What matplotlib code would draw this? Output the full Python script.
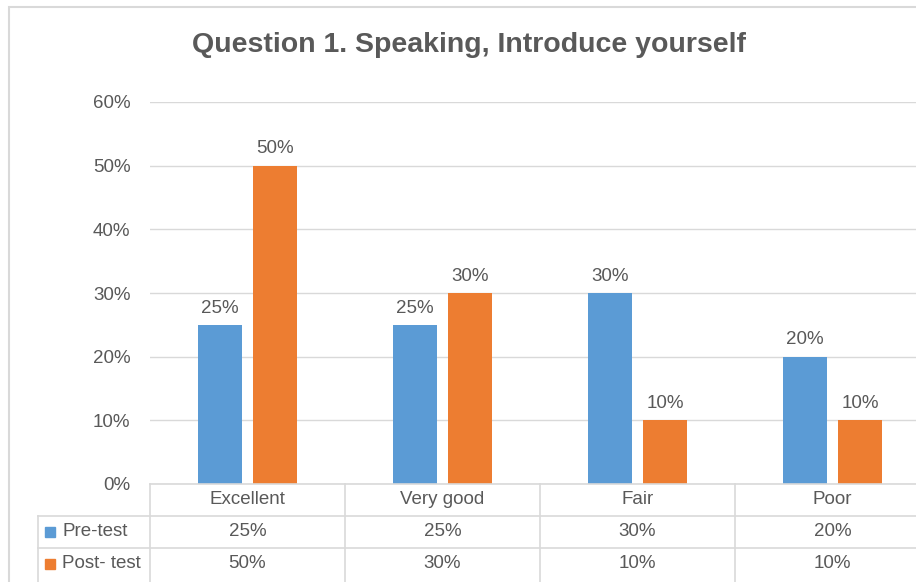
import matplotlib
matplotlib.use("Agg")
import matplotlib.pyplot as plt
import matplotlib.transforms as mtransforms
from matplotlib.patches import Rectangle
import numpy as np

categories = ["Excellent", "Very good", "Fair", "Poor"]
series_names = ["Pre-test", "Post- test"]
pre_test = [0.25, 0.25, 0.30, 0.20]
post_test = [0.50, 0.30, 0.10, 0.10]
yticks = [0.0, 0.1, 0.2, 0.3, 0.4, 0.5, 0.6]

blue = "#5B9BD5"
orange = "#ED7D31"
txt = "#595959"
grid = "#D9D9D9"
fs = 13.5

plt.rcParams['font.family'] = ['Liberation Sans', 'DejaVu Sans']

W, H = 916, 582
fig = plt.figure(figsize=(W / 100, H / 100), dpi=100)

def fx(px):
    return px / W

def fy(py):
    return 1 - py / H

# outer chart frame (cut off on the right and bottom)
fig.add_artist(Rectangle((fx(8.5), fy(700)), fx(1000), fy(6.5) - fy(700),
                         transform=fig.transFigure, fill=False,
                         edgecolor=grid, linewidth=1.5))

ax = fig.add_axes([fx(150), fy(484), fx(930) - fx(150), fy(102) - fy(484)])
ax.set_xlim(-0.5, 3.5)
ax.set_ylim(0, 0.6)
for s in ax.spines.values():
    s.set_visible(False)
ax.set_yticks(yticks)
ax.set_yticklabels([f"{int(round(v * 100))}%" for v in yticks], color=txt, fontsize=fs)
ax.tick_params(axis='y', length=0, pad=14)
ax.set_xticks([])
ax.yaxis.grid(True, color=grid, linewidth=1)
ax.set_axisbelow(True)

x = np.arange(len(categories))
bw = 0.226
off = 0.141
b1 = ax.bar(x - off, pre_test, bw, color=blue)
b2 = ax.bar(x + off, post_test, bw, color=orange)
for bars, vals in ((b1, pre_test), (b2, post_test)):
    for r, v in zip(bars, vals):
        ax.annotate(f"{int(round(v * 100))}%", (r.get_x() + r.get_width() / 2, v),
                    xytext=(0, 6), textcoords="offset points", ha="center", va="bottom",
                    color=txt, fontsize=fs)

fig.text(fx(469), fy(45), "Question 1. Speaking, Introduce yourself",
         ha="center", va="center", fontsize=20.5, fontweight="bold", color=txt)

# data table under the axis
tr = mtransforms.blended_transform_factory(ax.transData, fig.transFigure)
line_kw = dict(color=grid, linewidth=1.2, transform=fig.transFigure, clip_on=False)
fig.add_artist(plt.Line2D([fx(150), fx(930)], [fy(484), fy(484)], **line_kw))
for yy in (516, 548):
    fig.add_artist(plt.Line2D([fx(38), fx(930)], [fy(yy), fy(yy)], **line_kw))
fig.add_artist(plt.Line2D([fx(38), fx(38)], [fy(516), fy(600)], **line_kw))
for i in range(len(categories) + 1):
    fig.add_artist(plt.Line2D([i - 0.5, i - 0.5], [fy(484), fy(600)], color=grid,
                              linewidth=1.2, transform=tr, clip_on=False))

for i, c in enumerate(categories):
    fig.text(i, fy(500), c, transform=tr, ha="center", va="center", color=txt, fontsize=fs)
    fig.text(i, fy(532), f"{int(round(pre_test[i] * 100))}%", transform=tr,
             ha="center", va="center", color=txt, fontsize=fs)
    fig.text(i, fy(564), f"{int(round(post_test[i] * 100))}%", transform=tr,
             ha="center", va="center", color=txt, fontsize=fs)

for row_y, name, col in ((532, series_names[0], blue), (564, series_names[1], orange)):
    fig.add_artist(Rectangle((fx(45), fy(row_y + 5)), fx(10), fy(row_y - 5) - fy(row_y + 5),
                             transform=fig.transFigure, color=col))
    fig.text(fx(62), fy(row_y), name, ha="left", va="center", color=txt, fontsize=fs)

fig.savefig("out.png", dpi=100)
